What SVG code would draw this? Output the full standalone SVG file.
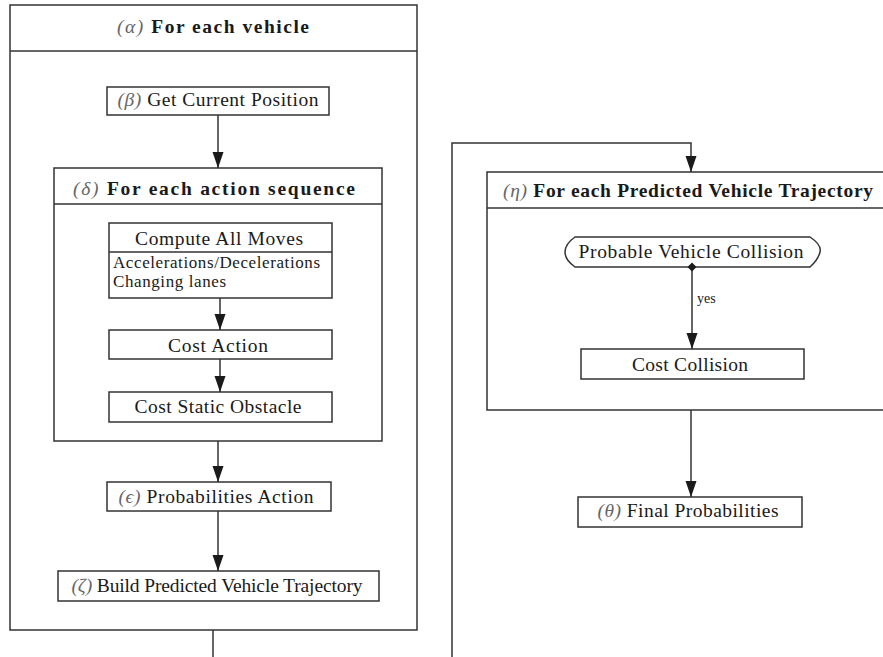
<svg xmlns="http://www.w3.org/2000/svg" width="883" height="657" viewBox="0 0 883 657">
<defs>
<style>
.box{fill:#fff;stroke:#333;stroke-width:1.5}
.ln{fill:none;stroke:#333;stroke-width:1.5}
.t{font-family:"Liberation Serif","Times New Roman",serif;font-size:19.5px;fill:#1a1a1a;text-anchor:middle}
.h{font-weight:bold}
.s{font-size:17px;text-anchor:start}
.g{font-style:italic;fill:#666;font-weight:normal}
.y{font-size:14px;text-anchor:start}
</style>
<marker id="arr" viewBox="0 -6 17 12" refX="16" refY="0" markerWidth="17" markerHeight="12" markerUnits="userSpaceOnUse" orient="auto">
<path d="M0,-5.5 L16,0 L0,5.5 z" fill="#1a1a1a"/>
</marker>
<marker id="dia" viewBox="-5 -5 10 10" refX="0" refY="0" markerWidth="10" markerHeight="10" markerUnits="userSpaceOnUse" orient="auto">
<path d="M-4.5,0 L0,-4.5 L4.5,0 L0,4.5 z" fill="#1a1a1a"/>
</marker>
</defs>
<rect width="883" height="657" fill="#fff"/>

<g id="alpha">
<rect class="box" x="10" y="5" width="407" height="625"/>
<line class="ln" x1="10" y1="51" x2="417" y2="51"/>
<text class="t h" x="213" y="33" textLength="192" lengthAdjust="spacing"><tspan class="g">(α)</tspan> For each vehicle</text>
</g>

<g id="beta">
<rect class="box" x="107" y="87" width="222" height="28"/>
<text class="t" x="218" y="106" textLength="201" lengthAdjust="spacing"><tspan class="g">(β)</tspan> Get Current Position</text>
</g>

<g id="delta">
<rect class="box" x="54" y="168" width="328" height="273"/>
<line class="ln" x1="54" y1="204" x2="382" y2="204"/>
<text class="t h" x="214" y="195" textLength="282" lengthAdjust="spacing"><tspan class="g">(δ)</tspan> For each action sequence</text>
</g>

<g id="computeMoves">
<rect class="box" x="109" y="223" width="223" height="75"/>
<line class="ln" x1="109" y1="252" x2="332" y2="252"/>
<text class="t" x="219" y="245" textLength="168" lengthAdjust="spacing">Compute All Moves</text>
<text class="t s" x="113" y="268" textLength="207" lengthAdjust="spacing">Accelerations/Decelerations</text>
<text class="t s" x="113" y="287" textLength="113" lengthAdjust="spacing">Changing lanes</text>
</g>

<g id="costAction">
<rect class="box" x="109" y="330" width="223" height="29"/>
<text class="t" x="218" y="352" textLength="100" lengthAdjust="spacing">Cost Action</text>
</g>

<g id="costStatic">
<rect class="box" x="109" y="392" width="223" height="30"/>
<text class="t" x="218" y="413" textLength="167" lengthAdjust="spacing">Cost Static Obstacle</text>
</g>

<g id="epsilon">
<rect class="box" x="107" y="482" width="224" height="29"/>
<text class="t" x="216" y="503" textLength="195" lengthAdjust="spacing"><tspan class="g">(ϵ)</tspan> Probabilities Action</text>
</g>

<g id="zeta">
<rect class="box" x="58" y="571" width="321" height="30"/>
<text class="t" x="217" y="592" textLength="291" lengthAdjust="spacing"><tspan class="g">(ζ)</tspan> Build Predicted Vehicle Trajectory</text>
</g>

<g id="eta">
<rect class="box" x="487" y="172" width="410" height="238"/>
<line class="ln" x1="487" y1="208" x2="897" y2="208"/>
<text class="t h" x="688" y="197" textLength="370" lengthAdjust="spacing"><tspan class="g">(η)</tspan> For each Predicted Vehicle Trajectory</text>
</g>

<g id="collisionDecision">
<path class="box" d="M575,237 H810 Q822,245 820,252 Q818,260 810,267 H575 Q565,260 565,252 Q565,244 575,237 z"/>
<text class="t" x="691" y="258" textLength="225" lengthAdjust="spacing">Probable Vehicle Collision</text>
</g>

<g id="costCollision">
<rect class="box" x="581" y="349" width="223" height="30"/>
<text class="t" x="690" y="371" textLength="116" lengthAdjust="spacing">Cost Collision</text>
</g>

<g id="theta">
<rect class="box" x="578" y="497" width="224" height="30"/>
<text class="t" x="688" y="517" textLength="181" lengthAdjust="spacing"><tspan class="g">(θ)</tspan> Final Probabilities</text>
</g>

<g id="connectors">
<line class="ln" x1="218" y1="115" x2="218" y2="168" marker-end="url(#arr)"/>
<line class="ln" x1="220" y1="298" x2="220" y2="330" marker-end="url(#arr)"/>
<line class="ln" x1="220" y1="359" x2="220" y2="392" marker-end="url(#arr)"/>
<line class="ln" x1="218" y1="441" x2="218" y2="482" marker-end="url(#arr)"/>
<line class="ln" x1="218" y1="511" x2="218" y2="571" marker-end="url(#arr)"/>
<line class="ln" x1="213" y1="630" x2="213" y2="657"/>
<path class="ln" d="M452,657 V143 H691 V172" marker-end="url(#arr)"/>
<line class="ln" x1="692" y1="267" x2="692" y2="349" marker-start="url(#dia)" marker-end="url(#arr)"/>
<text class="t y" x="697" y="303">yes</text>
<line class="ln" x1="691" y1="410" x2="691" y2="497" marker-end="url(#arr)"/>
</g>
</svg>
